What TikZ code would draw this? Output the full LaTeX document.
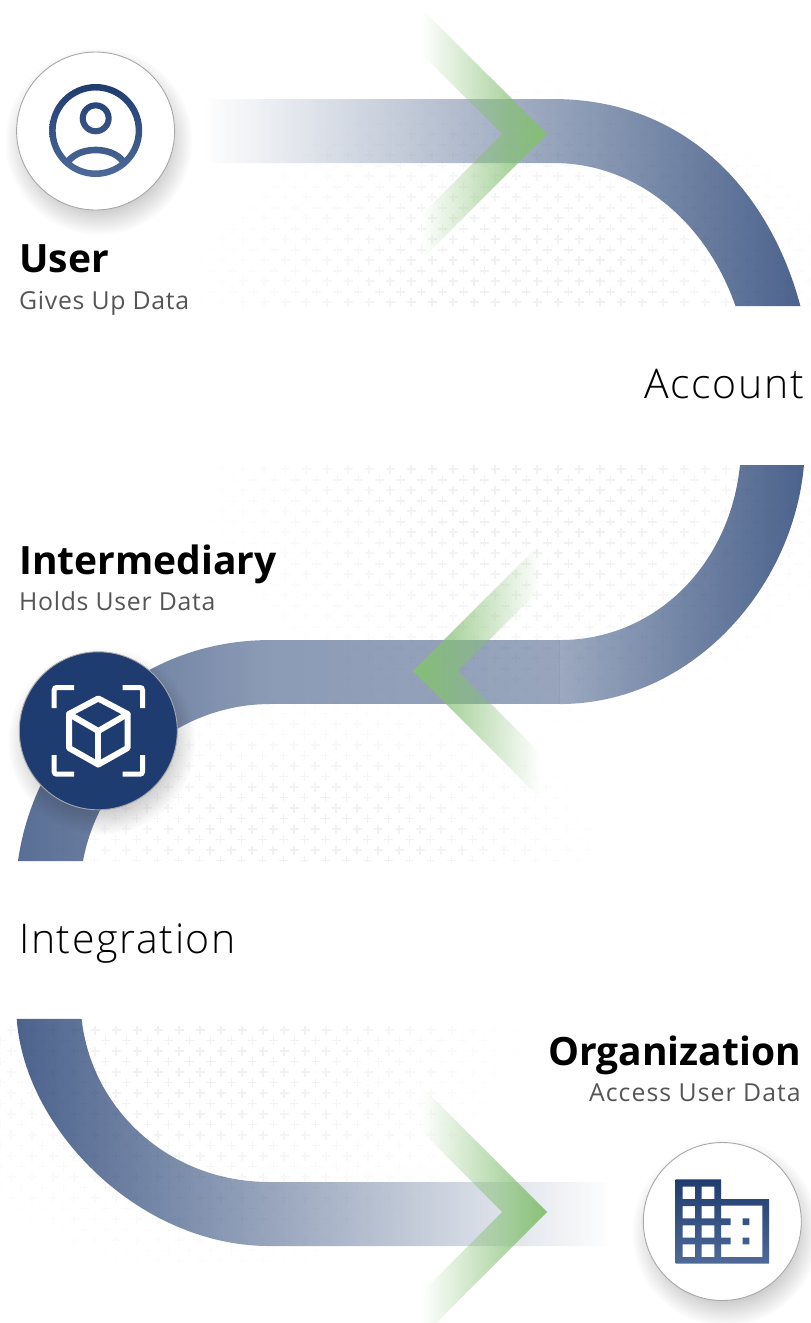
\documentclass[tikz,border=0pt]{standalone}
\usepackage{fontspec}
\usetikzlibrary{fadings}
\setmainfont{Open Sans}
\newfontfamily\lightf{Open Sans}[UprightFont=* Light]
\definecolor{navy}{HTML}{1F3C70}
\definecolor{navyl}{HTML}{4F6A98}
\definecolor{leaf}{HTML}{85C073}
\definecolor{subgray}{HTML}{555555}
\definecolor{ringgray}{HTML}{A8A8A8}
\tikzfading[name=fadeRightBand, left color=black, right color=black!20]
\tikzfading[name=fadeLeftBand, left color=black!20, right color=black]
\tikzfading[name=fadeMidFar, left color=black!26, right color=black!49]
\tikzfading[name=fadeMidLeft, left color=black!49, right color=black!54]
\tikzfading[name=fadeMidRight, left color=black!56, right color=black!20]
\tikzfading[name=fadeRightChev, left color=black, right color=black!3]
\tikzfading[name=fadeLeftChev, left color=black!3, right color=black]
\tikzfading[name=fadeShadow, inner color=white, outer color=black]
\newcommand{\plusfield}[8]{%
  \foreach \k in {0,...,#4}{%
    \pgfmathsetmacro{\yy}{#2+10.5*\k}%
    \pgfmathsetmacro{\xo}{#1+10.5*mod(\k,2)}%
    \foreach \m in {0,...,#3}{%
      \pgfmathsetmacro{\xx}{\xo+21*\m}%
      \pgfmathsetmacro{\dd}{sqrt(((\xx-#5)/#7)^2+((\yy-#6)/#8)^2)}%
      \pgfmathsetmacro{\ii}{min(1,1.4*(1-\dd))*5.5}%
      \ifdim\ii pt>0.3pt
        \draw[color=black!\ii,line width=1.8] (\xx-4.5,\yy) -- (\xx+4.5,\yy) (\xx,\yy-4.5) -- (\xx,\yy+4.5);
      \fi
    }%
  }%
}
\tikzset{
  disc/.style={circle,draw=ringgray,line width=0.9,minimum size=158,inner sep=0},
  shadowdisc/.style={black,opacity=.7,path fading=fadeShadow},
  bandfill/.style={fill=navy},
  chev/.style={fill=leaf},
  icongrad/.style={even odd rule,draw=none,shade,shading angle=45,top color=navy,bottom color=navyl},
  titletxt/.style={inner sep=0,font=\fontsize{39}{40}\selectfont\bfseries,text=black},
  subtxt/.style={inner sep=0,font=\fontsize{24.8}{26}\selectfont\addfontfeature{LetterSpace=2.8},text=subgray},
  steptxt/.style={inner sep=0,font=\fontsize{41}{42}\selectfont\lightf\addfontfeature{LetterSpace=4},text=black},
}
\begin{document}
\begin{tikzpicture}[x=1pt,y=-1pt]
\fill[white] (0,0) rectangle (811,1323);
\useasboundingbox (0,0) rectangle (811,1323);
% plus fields
\begin{scope}
\clip (0,60) rectangle (811,306);
\plusfield{180}{71.2}{30}{23}{520}{306}{340}{235}
\end{scope}
\begin{scope}
\clip (0,465) rectangle (811,730);
\plusfield{180}{469.3}{30}{25}{530}{475}{340}{260}
\end{scope}
\begin{scope}
\clip (0,700) rectangle (811,861);
\plusfield{63}{703}{27}{15}{300}{861}{320}{185}
\end{scope}
\begin{scope}
\clip (0,1019) rectangle (811,1270);
\plusfield{-10}{1030}{27}{23}{210}{1019}{320}{270}
\end{scope}
% bands
\fill[bandfill,path fading=fadeRightBand] (205,99) -- (554,99) .. controls (685,99) and (770,190) .. (801,306) -- (736,306) .. controls (708,225) and (640,163) .. (554,163) -- (205,163) -- cycle;
\fill[bandfill,path fading=fadeMidRight] (804,465) .. controls (793,590) and (690,704) .. (560,704) -- (560,640) .. controls (655,640) and (730,565) .. (740,465) -- cycle;
\fill[bandfill,path fading=fadeMidLeft] (270,640) rectangle (560,704);
\fill[bandfill,path fading=fadeMidFar] (270,704) .. controls (180,704) and (100,770) .. (83,861) -- (18,861) .. controls (35,740) and (135,640) .. (270,640) -- cycle;
\fill[bandfill,path fading=fadeLeftBand] (17,1019) .. controls (25,1130) and (140,1246) .. (270,1246) -- (610,1246) -- (610,1182) -- (270,1182) .. controls (170,1182) and (92,1110) .. (82,1019) -- cycle;
% chevrons
\fill[chev,path fading=fadeRightChev] (422,9) -- (547,134) -- (422,259) -- (422,214) -- (502,134) -- (422,54) -- cycle;
\fill[chev,path fading=fadeLeftChev] (540,544) -- (413,671) -- (540,798) -- (540,753) -- (458,671) -- (540,589) -- cycle;
\fill[chev,path fading=fadeRightChev] (422,1087) -- (547,1212) -- (436,1323) -- (422,1323) -- (422,1292) -- (502,1212) -- (422,1132) -- cycle;
% shadows
\fill[shadowdisc] (98.5,141) circle[radius=94];
\fill[shadowdisc] (101.5,741) circle[radius=94];
\fill[shadowdisc] (725.5,1232) circle[radius=94];
% discs
\node[disc,fill=white] (user) at (95.6,131) {};
\node[disc,fill=navy] (inter) at (98.3,730.8) {};
\node[disc,fill=white] (org) at (722.3,1221.5) {};
% user icon
\path[icongrad]
  (95.7,130.5) circle[radius=46.5]
  (124.7,158) arc[start angle=43.5,end angle=-223.5,radius=40] .. controls (80,142.9) and (111.4,142.9) .. (124.7,158) -- cycle
  (71.7,162.5) .. controls (82,150.2) and (109.4,150.2) .. (119.7,162.5) arc[start angle=53.13,end angle=126.87,radius=40] -- cycle
  (95.7,118.3) circle[radius=16]
  (95.7,118.3) circle[radius=10];
% intermediary icon
\begin{scope}[white,line width=5,rounded corners=2.5]
\draw (54.2,708) -- (54.2,687.5) -- (74,687.5);
\draw (122.5,687.5) -- (142.5,687.5) -- (142.5,708);
\draw (54.2,755) -- (54.2,774.2) -- (74,774.2);
\draw (122.5,774.2) -- (142.5,774.2) -- (142.5,755);
\end{scope}
\begin{scope}[white,line width=6,line join=round,line cap=round]
\draw (98.3,698.5) -- (127.6,714) -- (127.6,748) -- (98.3,764.5) -- (69,748) -- (69,714) -- cycle;
\draw (69,714) -- (98.3,731) -- (127.6,714);
\draw (98.3,731) -- (98.3,764.5);
\end{scope}
% organization icon
\path[icongrad]
  (675.7,1179.3) -- (721,1179.3) -- (721,1199) -- (769,1199) -- (769,1263.7) -- (675.7,1263.7) -- cycle
  (682.7,1186.7) rectangle (695,1199)
  (701.7,1186.7) rectangle (714.3,1199)
  (682.7,1206) rectangle (695,1218.3)
  (701.7,1206) rectangle (714.3,1218.3)
  (682.7,1225.3) rectangle (695,1237.7)
  (701.7,1225.3) rectangle (714.3,1237.7)
  (682.7,1244.3) rectangle (695,1257)
  (701.7,1244.3) rectangle (714.3,1257)
  (721,1205.7) -- (762.3,1205.7) -- (762.3,1257) -- (721,1257) -- (721,1244.3) -- (730.7,1244.3) -- (730.7,1237.7) -- (721,1237.7) -- (721,1225) -- (730.7,1225) -- (730.7,1218.3) -- (721,1218.3) -- cycle
  (742.7,1218.3) rectangle (749.3,1225)
  (742.7,1237.7) rectangle (749.3,1244.3);
% labels
\node[titletxt,anchor=base west] (tuser) at (19,272) {User};
\node[subtxt,anchor=base west] (suser) at (19,309) {Gives Up Data};
\node[titletxt,anchor=base west] (tinter) at (19,574) {Intermediary};
\node[subtxt,anchor=base west] (sinter) at (19,610) {Holds User Data};
\node[titletxt,anchor=base east] (torg) at (801,1065) {Organization};
\node[subtxt,anchor=base east] (sorg) at (801,1101) {\addfontfeature{LetterSpace=4.2}Access User Data};
\node[steptxt,anchor=base east] (acct) at (804,398) {Account};
\node[steptxt,anchor=base west] (integ) at (19,953) {Integration};
\end{tikzpicture}
\end{document}
